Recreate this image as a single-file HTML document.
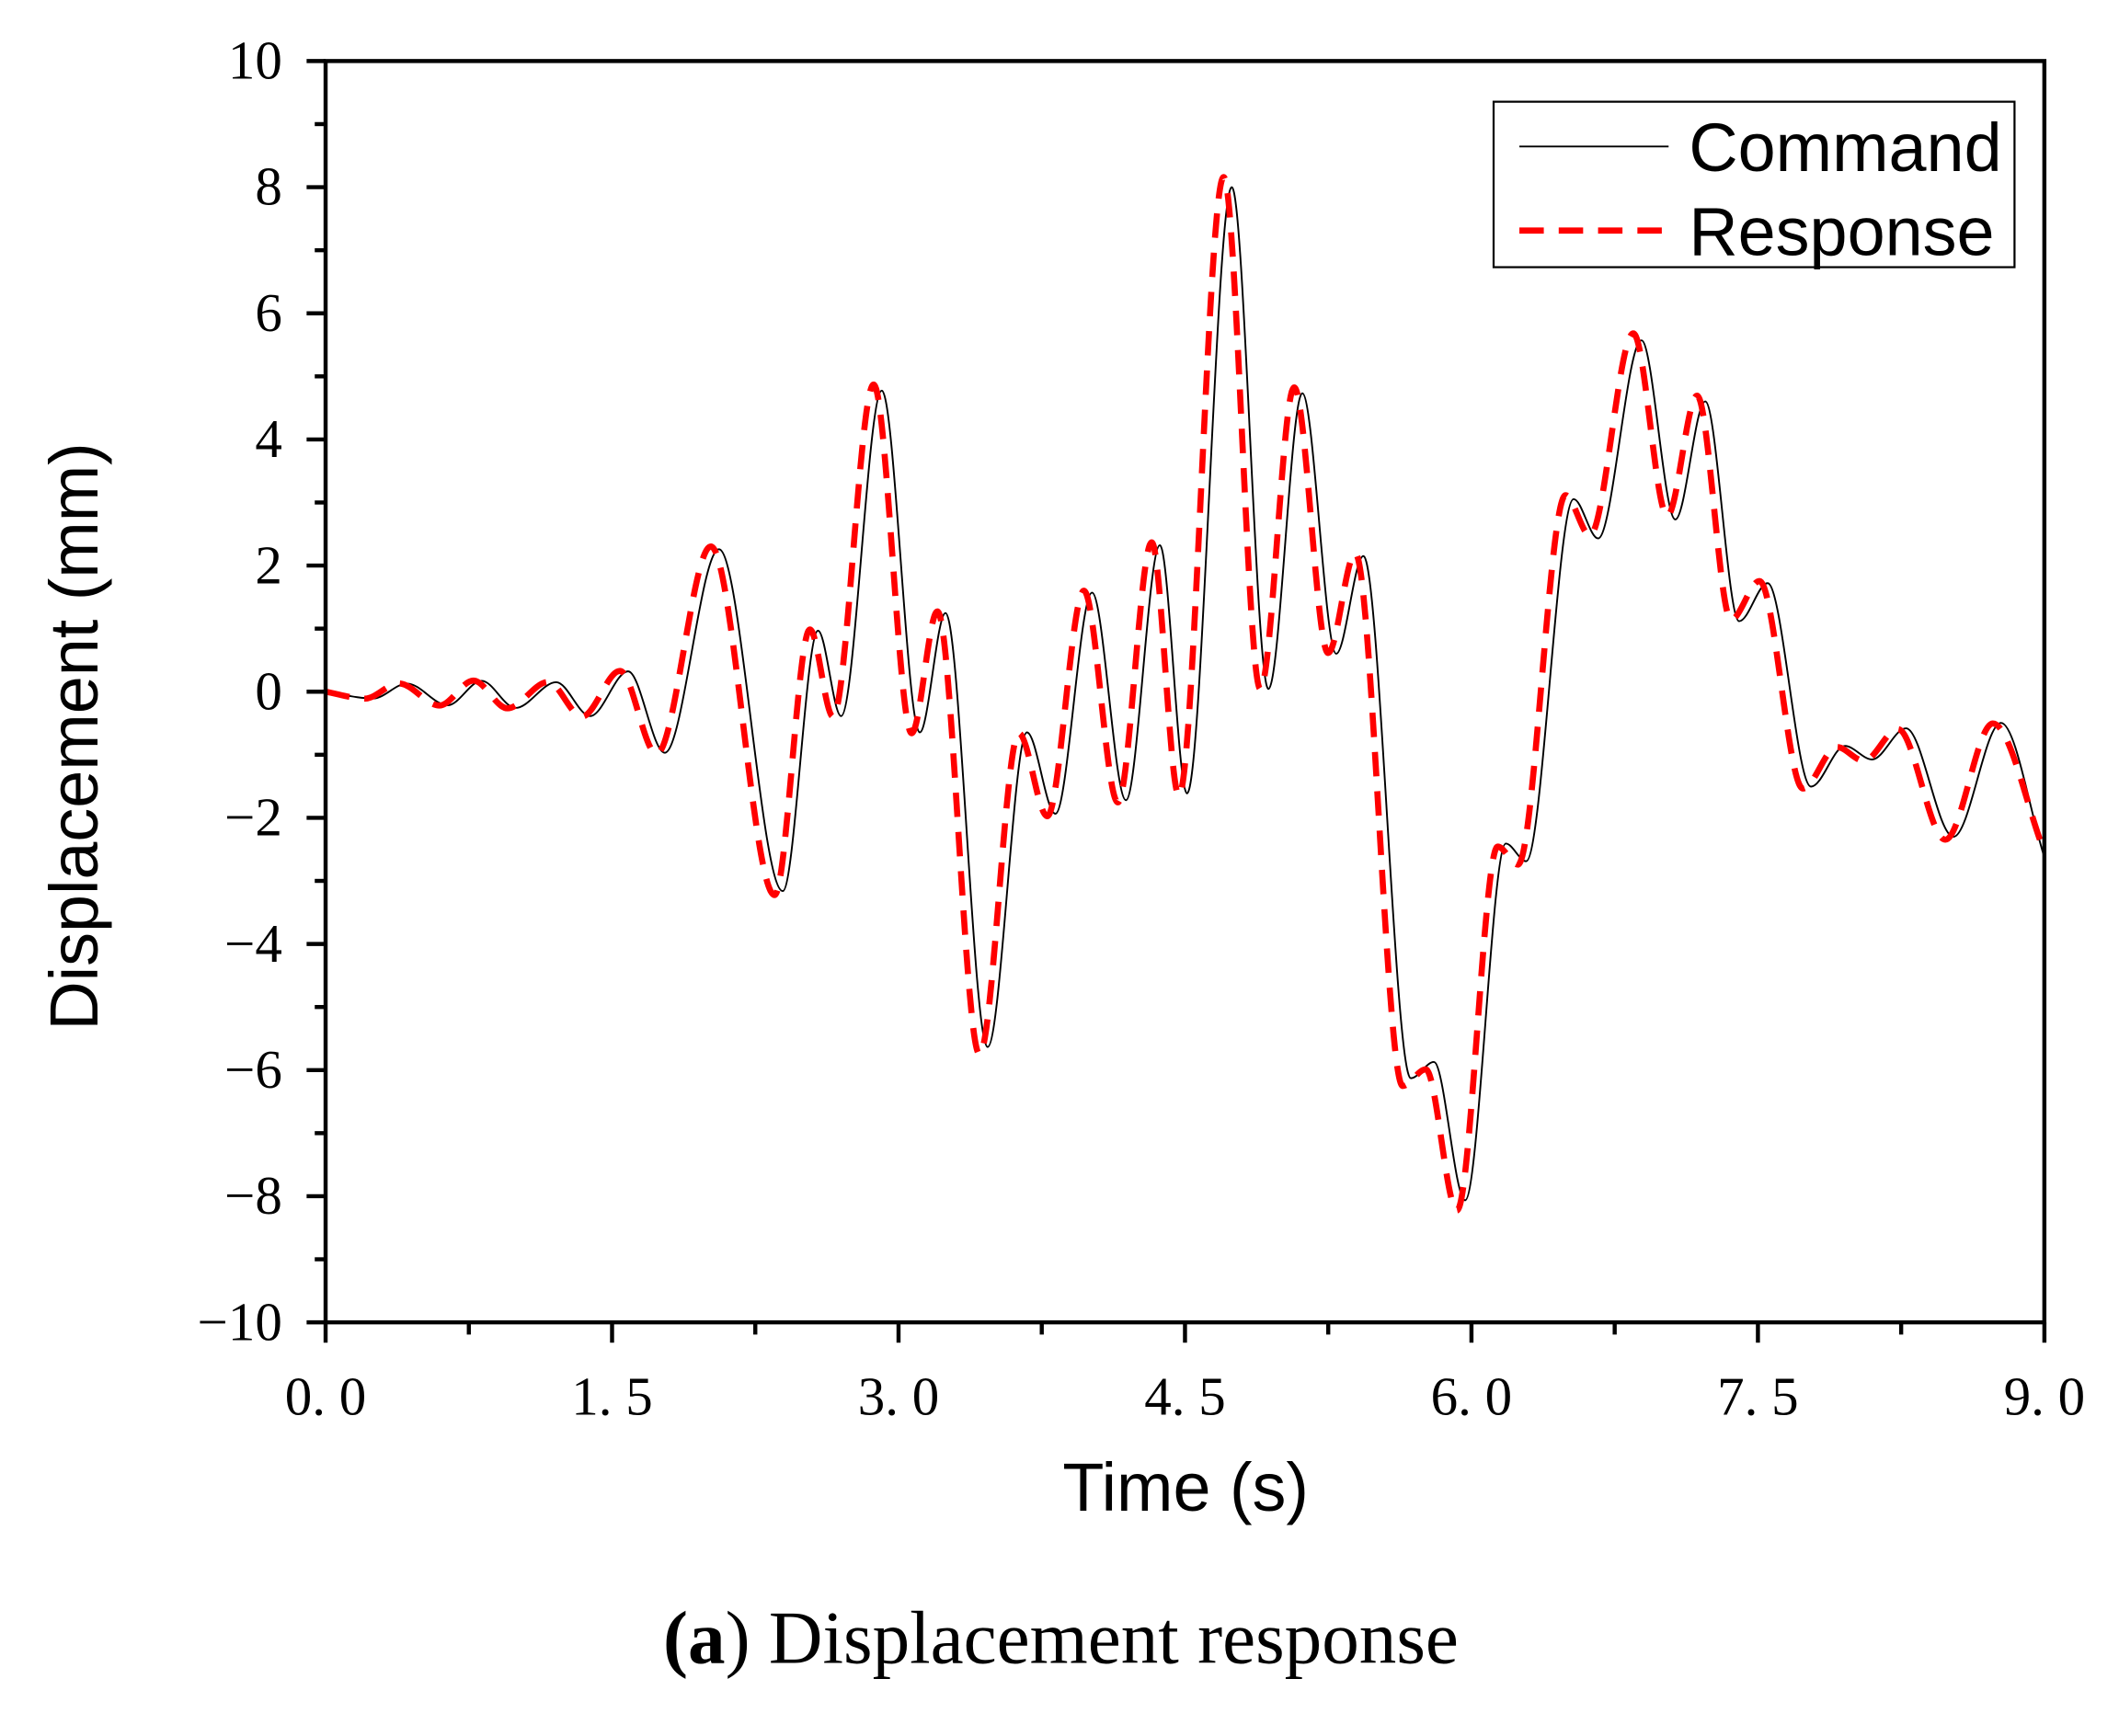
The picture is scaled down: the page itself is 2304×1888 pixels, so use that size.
<!DOCTYPE html>
<html><head><meta charset="utf-8"><style>
html,body{margin:0;padding:0;background:#fff;}
svg{display:block;}
.tk{font-family:"Liberation Serif","Noto Serif CJK SC",serif;font-size:40px;fill:#000;}
.al{font-family:"Liberation Sans",sans-serif;font-size:50px;fill:#000;}
</style></head><body>
<svg id="s" width="2304" height="1888" viewBox="0 0 1562 1280" xmlns="http://www.w3.org/2000/svg">
<rect width="1562" height="1280" fill="#fff"/>
<g id="ticks" stroke="#000" stroke-width="3"></g>
<g id="lbl"></g>
<path id="cmd" fill="none" stroke="#000" stroke-width="1.3"/>
<path id="rsp" fill="none" stroke="#f00" stroke-width="4.5" stroke-dasharray="18,11"/>
<rect x="240" y="45" width="1267" height="930" fill="none" stroke="#000" stroke-width="3"/>
<rect x="1101" y="75" width="384" height="122" fill="#fff" stroke="#000" stroke-width="1.5"/>
<line x1="1120" y1="108" x2="1230" y2="108" stroke="#000" stroke-width="1.3"/>
<line x1="1120" y1="170" x2="1230" y2="170" stroke="#f00" stroke-width="4.5" stroke-dasharray="18,11"/>
<text x="1245" y="126" class="al">Command</text>
<text x="1245" y="188" class="al">Response</text>
<text x="874" y="1114" class="al" text-anchor="middle">Time (s)</text>
<text transform="translate(72,543) rotate(-90)" class="al" text-anchor="middle">Displacement (mm)</text>
<text x="782" y="1226" text-anchor="middle" style="font-family:'Liberation Serif',serif;font-size:55px"><tspan font-weight="bold">(a</tspan>) Displacement response</text>
</svg>
<script>
var NS="http://www.w3.org/2000/svg";
var tg=document.getElementById('ticks'),lg=document.getElementById('lbl');
function ln(a,b,c,d){var l=document.createElementNS(NS,'line');l.setAttribute('x1',a);l.setAttribute('y1',b);l.setAttribute('x2',c);l.setAttribute('y2',d);tg.appendChild(l);}
function tx(x,y,t,anc){var e=document.createElementNS(NS,'text');e.setAttribute('x',x);e.setAttribute('y',y);e.setAttribute('class','tk');e.setAttribute('text-anchor',anc);e.textContent=t;lg.appendChild(e);}
for(var v=-10;v<=10;v++){var y=510-v*46.5;var maj=(v%2==0);ln(maj?226:232,y,240,y);
 if(maj)tx(208,y+13,(v<0?'\u2212':'')+Math.abs(v),'end');}
var xl=['0. 0','1. 5','3. 0','4. 5','6. 0','7. 5','9. 0'];
for(var i=0;i<=12;i++){var x=240+i*0.75*140.78;var maj=(i%2==0);ln(x,975,x,maj?990:984);
 if(maj)tx(x,1043,xl[i/2],'middle');}
var P=[[240,510],[275,515],[300,504],[330,520],[355,502],[380,522],[410,503],[435,528],[463,495],[490,555],[530,405],[577,657],[603,465],[620,528],[650,288],[678,540],[697,452],[728,772],[757,540],[778,600],[805,437],[830,590],[855,402],[875,585],[908,138],[935,508],[960,290],[985,482],[1005,410],[1040,795],[1057,783],[1080,885],[1110,622],[1125,635],[1160,368],[1178,397],[1210,251],[1235,383],[1257,296],[1282,458],[1303,430],[1335,580],[1360,550],[1380,560],[1405,537],[1440,617],[1475,533],[1507,632]];
function path(pts){var d='M'+pts[0][0]+','+pts[0][1];
 for(var i=0;i<pts.length-1;i++){var p0=pts[Math.max(0,i-1)],p1=pts[i],p2=pts[i+1],p3=pts[Math.min(pts.length-1,i+2)];
  var dx=p2[0]-p1[0];
  var m1=(p2[1]-p0[1])/(p2[0]-p0[0]||1),m2=(p3[1]-p1[1])/(p3[0]-p1[0]||1);
  if((p1[1]-p0[1])*(p2[1]-p1[1])<=0&&i>0)m1=0;
  if((p2[1]-p1[1])*(p3[1]-p2[1])<=0&&i<pts.length-2)m2=0;
  d+=' C'+(p1[0]+dx/3)+','+(p1[1]+m1*dx/3)+' '+(p2[0]-dx/3)+','+(p2[1]-m2*dx/3)+' '+p2[0]+','+p2[1];}
 return d;}
document.getElementById('cmd').setAttribute('d',path(P));
var R=P.map(function(p,i){var x=i==0?240:Math.min(1507,p[0]-6);return [x,510+(p[1]-510)*1.02];});
R[R.length-1]=[1507,628];
document.getElementById('rsp').setAttribute('d',path(R));
</script>
</body></html>
